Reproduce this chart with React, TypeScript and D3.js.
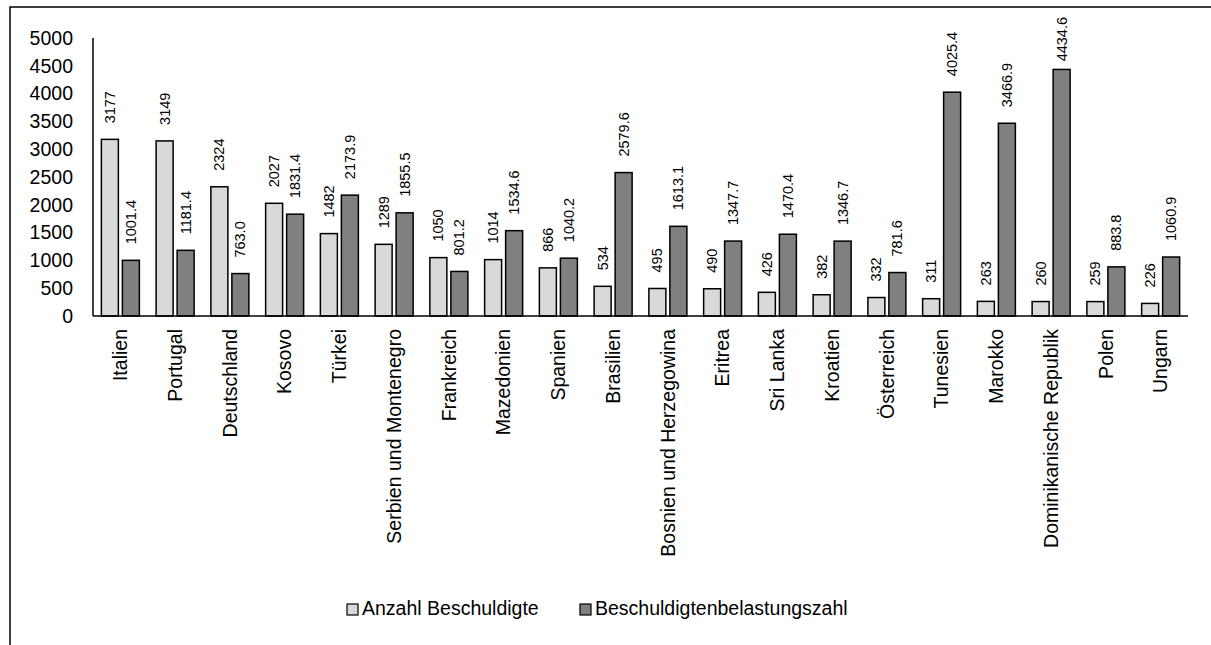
import React, { useEffect, useRef } from "react";
import * as d3 from "d3";

const categories = [
  "Italien", "Portugal", "Deutschland", "Kosovo", "Türkei",
  "Serbien und Montenegro", "Frankreich", "Mazedonien", "Spanien", "Brasilien",
  "Bosnien und Herzegowina", "Eritrea", "Sri Lanka", "Kroatien", "Österreich",
  "Tunesien", "Marokko", "Dominikanische Republik", "Polen", "Ungarn",
];
const seriesNames = ["Anzahl Beschuldigte", "Beschuldigtenbelastungszahl"];
const anzahl = [3177, 3149, 2324, 2027, 1482, 1289, 1050, 1014, 866, 534, 495, 490, 426, 382, 332, 311, 263, 260, 259, 226];
const belastung = [1001.4, 1181.4, 763.0, 1831.4, 2173.9, 1855.5, 801.2, 1534.6, 1040.2, 2579.6, 1613.1, 1347.7, 1470.4, 1346.7, 781.6, 4025.4, 3466.9, 4434.6, 883.8, 1060.9];
const yTicks = [0, 500, 1000, 1500, 2000, 2500, 3000, 3500, 4000, 4500, 5000];
const colors = ["#d9d9d9", "#808080"];

const W = 1211;
const H = 645;
const FONT = "'Liberation Sans', Arial, sans-serif";

const App = () => {
  const svgRef = useRef<SVGSVGElement | null>(null);

  useEffect(() => {
    const svg = d3.select(svgRef.current);
    svg.selectAll("*").remove();

    // outer frame, only the left and top edges fall inside the picture
    svg.append("rect")
      .attr("x", 10).attr("y", 7)
      .attr("width", 1400).attr("height", 800)
      .attr("fill", "none").attr("stroke", "#000").attr("stroke-width", 1.5);

    const x0 = d3.scaleBand().domain(categories).range([93, 1188]);
    const c = x0.bandwidth() / 2;
    const x1 = d3.scaleBand().domain(seriesNames).range([c - 19, c + 19]).paddingInner(0.1905);
    const y = d3.scaleLinear().domain([0, 5000]).range([316, 38]);

    // y tick labels (no tick marks)
    svg.append("g").selectAll("text").data(yTicks).enter().append("text")
      .attr("x", 73).attr("y", d => y(d)).attr("dy", "0.35em")
      .attr("text-anchor", "end")
      .style("font-family", FONT).style("font-size", "19.5px")
      .text(d => d);

    const rows = categories.map((cat, i) => ({ cat, vals: [anzahl[i], belastung[i]] }));

    const groups = svg.append("g").selectAll("g").data(rows).enter().append("g")
      .attr("transform", d => `translate(${x0(d.cat)},0)`);

    groups.selectAll("rect").data(d => d.vals.map((v, k) => ({ v, k }))).enter().append("rect")
      .attr("x", d => x1(seriesNames[d.k])!)
      .attr("y", d => y(d.v))
      .attr("width", x1.bandwidth())
      .attr("height", d => 316 - y(d.v))
      .attr("fill", d => colors[d.k])
      .attr("stroke", "#000").attr("stroke-width", 1.5);

    // value labels above the bars, rotated
    groups.selectAll("text.val").data(d => d.vals.map((v, k) => ({ v, k }))).enter().append("text")
      .attr("class", "val")
      .attr("text-anchor", "start")
      .style("font-family", FONT).style("font-size", "14.5px")
      .text(d => (d.k === 0 ? String(d.v) : d.v.toFixed(1)))
      .each(function (d) {
        const len = (this as SVGTextElement).getComputedTextLength();
        let base = y(d.v) - 16;
        if (base - len < 17) base = 17 + len;
        const cx = x1(seriesNames[d.k])! + x1.bandwidth() / 2;
        d3.select(this)
          .attr("transform", `translate(${cx},${base}) rotate(-90)`)
          .attr("dy", "0.35em");
      });

    // axes lines
    svg.append("line").attr("x1", 93).attr("x2", 93).attr("y1", 38).attr("y2", 316)
      .attr("stroke", "#000").attr("stroke-width", 1.5);
    svg.append("line").attr("x1", 93).attr("x2", 1188).attr("y1", 316).attr("y2", 316)
      .attr("stroke", "#000").attr("stroke-width", 1.5);

    // category labels
    svg.append("g").selectAll("text").data(categories).enter().append("text")
      .attr("transform", d => `translate(${x0(d)! + c},329) rotate(-90)`)
      .attr("dy", "0.35em")
      .attr("text-anchor", "end")
      .style("font-family", FONT).style("font-size", "19.5px")
      .text(d => d);

    // legend
    const legendX = [347, 580];
    const legend = svg.append("g").selectAll("g").data(seriesNames).enter().append("g")
      .attr("transform", (d, i) => `translate(${legendX[i]},604)`);
    legend.append("rect")
      .attr("width", 11).attr("height", 11)
      .attr("fill", (d, i) => colors[i])
      .attr("stroke", "#000").attr("stroke-width", 1.2);
    legend.append("text")
      .attr("x", 15).attr("y", 11)
      .style("font-family", FONT).style("font-size", "19.5px")
      .text(d => d);
  }, []);

  return (
    <div style={{ position: "absolute", left: 0, top: 0 }}>
      <svg ref={svgRef} width={W} height={H} style={{ display: "block", background: "#fff" }} />
    </div>
  );
};

export default App;
